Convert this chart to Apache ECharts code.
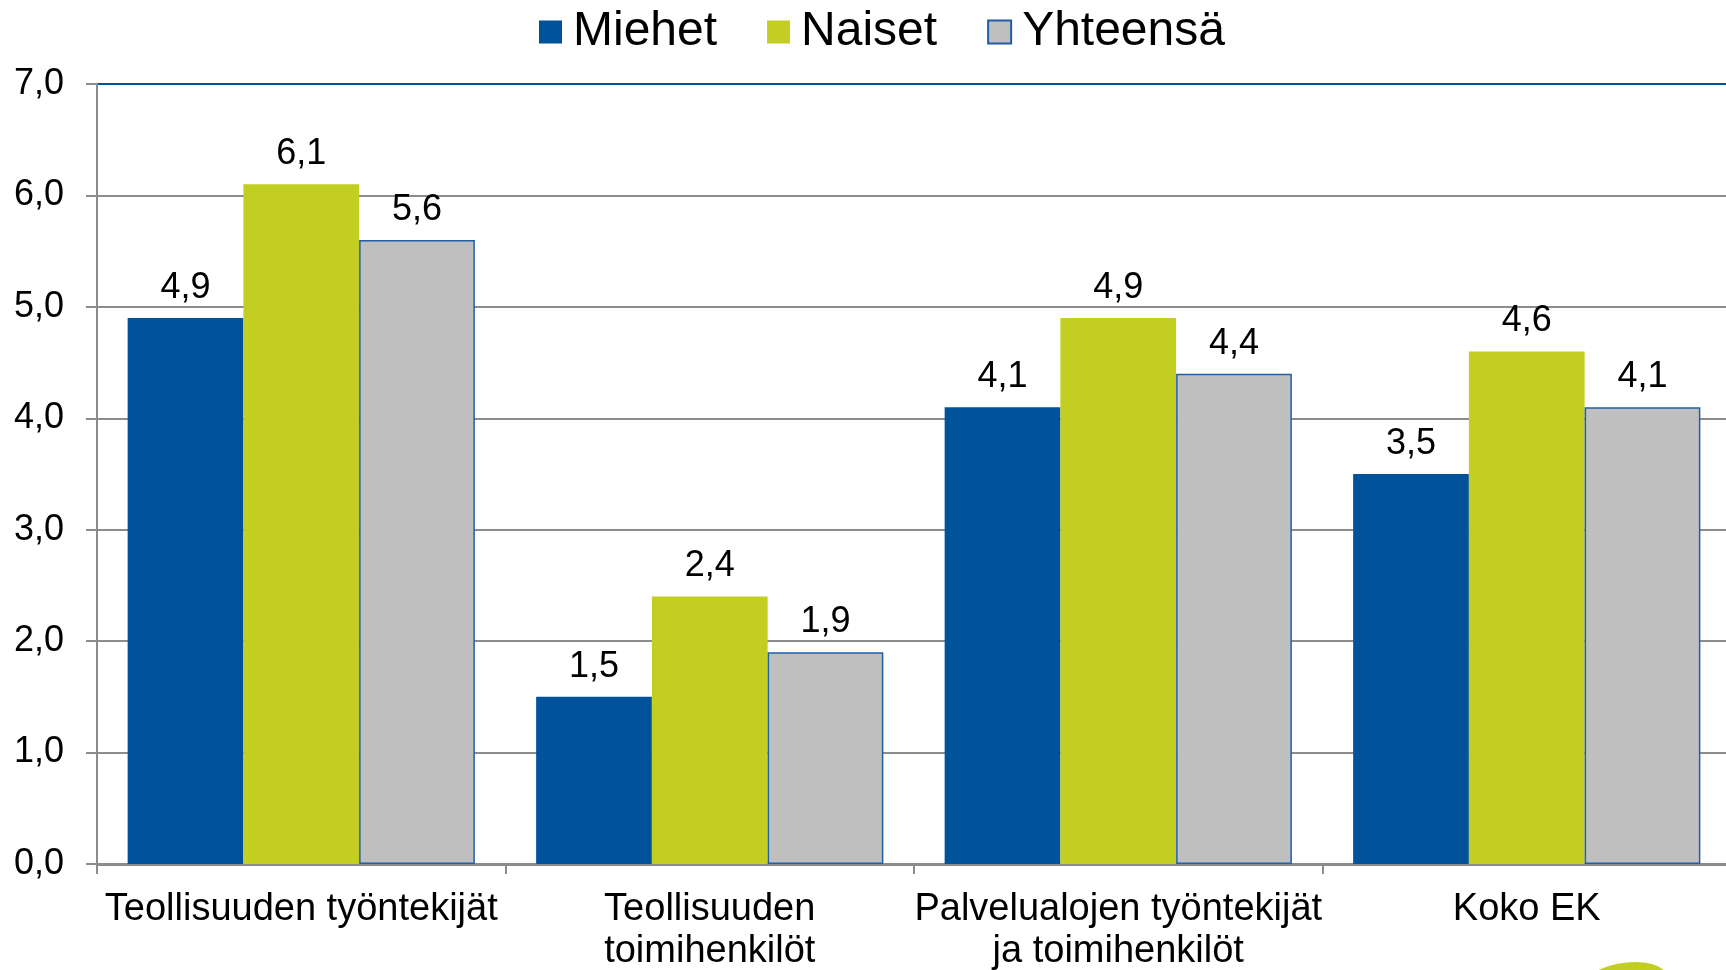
<!DOCTYPE html>
<html>
<head>
<meta charset="utf-8">
<script src="https://cdn.jsdelivr.net/npm/echarts@6/dist/echarts.min.js"></script>
<style>
  html, body { margin: 0; padding: 0; background: #fff; }
  #chart { width: 1726px; height: 970px; }
</style>
</head>
<body>
<div id="chart"></div>
<script>
const categories = [
  'Teollisuuden työntekijät',
  'Teollisuuden\ntoimihenkilöt',
  'Palvelualojen työntekijät\nja toimihenkilöt',
  'Koko EK'
]
const miehet = [4.9, 1.5, 4.1, 3.5]
const naiset = [6.1, 2.4, 4.9, 4.6]
const yhteensa = [5.6, 1.9, 4.4, 4.1]
const yTicks = [0, 1, 2, 3, 4, 5, 6, 7]

const font = '"Liberation Sans", Arial, sans-serif'
const fmt = v => v.toFixed(1).replace('.', ',')

const chart = echarts.init(document.getElementById('chart'), null, { renderer: 'canvas' })

const label = {
  show: true,
  position: 'top',
  distance: 12,
  color: '#000',
  fontSize: 36,
  fontFamily: font,
  formatter: p => fmt(p.value)
}

// top gridline (7,0) is blue, the rest grey
const splitColors = yTicks.map((t, i) => (i === yTicks.length - 1 ? '#00539b' : '#8c8c8c'))

const option = {
  backgroundColor: '#fff',
  animation: false,
  legend: {
    left: 534,
    top: 3,
    itemWidth: 23,
    itemHeight: 23,
    itemGap: 50,
    icon: 'rect',
    textStyle: { fontSize: 48, fontFamily: font, color: '#000', padding: [0, 0, 0, 6] },
    data: ['Miehet', 'Naiset', 'Yhteensä']
  },
  grid: { left: 97, right: -5, top: 84, bottom: 106, containLabel: false, outerBoundsMode: 'none' },
  xAxis: {
    type: 'category',
    data: categories,
    axisLine: { lineStyle: { color: '#8c8c8c', width: 3 } },
    axisTick: { show: true, length: 10, lineStyle: { color: '#8c8c8c', width: 2 } },
    axisLabel: {
      interval: 0,
      margin: 25,
      color: '#000',
      fontSize: 38,
      lineHeight: 42,
      fontFamily: font
    }
  },
  yAxis: {
    type: 'value',
    min: 0,
    max: 7,
    interval: 1,
    axisLine: { show: true, lineStyle: { color: '#8c8c8c', width: 2 } },
    axisTick: { show: true, length: 11, lineStyle: { color: '#8c8c8c', width: 2 } },
    axisLabel: {
      margin: 33,
      color: '#000',
      fontSize: 36,
      fontFamily: font,
      formatter: v => fmt(v)
    },
    splitLine: { lineStyle: { color: splitColors, width: 2 } }
  },
  series: [
    {
      name: 'Miehet',
      type: 'bar',
      data: miehet,
      barGap: 0,
      barCategoryGap: '15%',
      itemStyle: { color: '#00539b' },
      label
    },
    {
      name: 'Naiset',
      type: 'bar',
      data: naiset,
      barGap: 0,
      barCategoryGap: '15%',
      itemStyle: { color: '#c2cf22' },
      label
    },
    {
      name: 'Yhteensä',
      type: 'bar',
      data: yhteensa,
      barGap: 0,
      barCategoryGap: '15%',
      itemStyle: { color: '#bfbfbf', borderColor: '#1f5fa8', borderWidth: 1.5 },
      label
    }
  ],
  graphic: [
    {
      // corner of the green logo leaf, cut by the picture edge
      type: 'ellipse',
      shape: { cx: 0, cy: 0, rx: 50, ry: 26 },
      x: 1620,
      y: 990,
      rotation: 0.25,
      style: { fill: '#c2cf22' },
      silent: true
    }
  ]
}

chart.setOption(option)
window.addEventListener('resize', () => chart.resize())
</script>
</body>
</html>
